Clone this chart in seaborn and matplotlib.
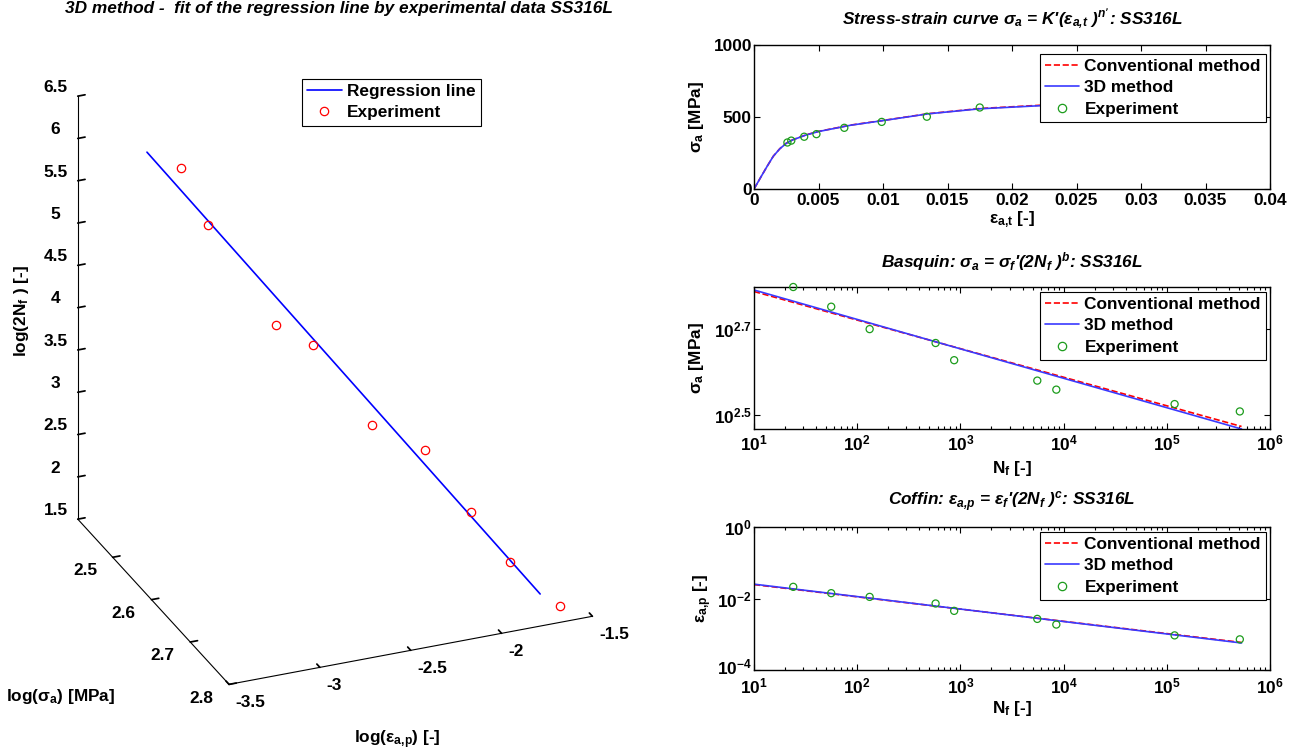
import numpy as np
import pandas as pd
import seaborn as sns
import matplotlib
matplotlib.use("Agg")
import matplotlib.pyplot as plt
from matplotlib.lines import Line2D
from matplotlib.transforms import ScaledTranslation
from matplotlib.ticker import FixedLocator, FixedFormatter, LogLocator, NullFormatter, NullLocator

# ---------------- data ----------------
cycles_nf = [24, 56, 132, 575, 870, 5560, 8500, 119000, 510000]
stress_amp = [629, 566, 502, 466, 425, 381, 363, 336, 323]
strain_total = [0.0270, 0.0175, 0.0134, 0.0099, 0.0070, 0.00484, 0.00389, 0.00289, 0.00259]
strain_plastic = [0.0212, 0.0141, 0.0111, 0.00724, 0.00451, 0.00269, 0.00187, 0.00093, 0.00072]

curve_strain = [0, 0.0005, 0.001, 0.0015, 0.002, 0.0025, 0.003, 0.004, 0.005,
                0.0075, 0.01, 0.0135, 0.0175, 0.0225, 0.03]
curve_stress_conv = [0, 78, 155, 228, 280, 318, 342, 375, 400, 444, 476, 523, 559, 583, 618]
curve_stress_3d = [0, 78, 155, 228, 279, 317, 341, 374, 399, 443, 475, 522, 557, 580, 615]

fit_nf = [10, 530000]
basquin_conv = [614, 298]
basquin_3d = [619, 294]
coffin_conv = [0.0245, 0.00059]
coffin_3d = [0.0252, 0.00057]

reg_log_eps = [-3.243, -1.715]
reg_log_sig = [2.468, 2.766]
reg_log_2nf = [6.025, 1.68]

strain_ticks = [0, 0.005, 0.01, 0.015, 0.02, 0.025, 0.03, 0.035, 0.04]
strain_labels = ["0", "0.005", "0.01", "0.015", "0.02", "0.025", "0.03", "0.035", "0.04"]
stress_ticks = [0, 500, 1000]
stress_labels = ["0", "500", "1000"]
nf_ticks = [1e1, 1e2, 1e3, 1e4, 1e5, 1e6]
nf_labels = ["$10^{1}$", "$10^{2}$", "$10^{3}$", "$10^{4}$", "$10^{5}$", "$10^{6}$"]
basq_ticks = [10 ** 2.5, 10 ** 2.7]
basq_labels = ["$10^{2.5}$", "$10^{2.7}$"]
coff_ticks = [1e-4, 1e-2, 1e0]
coff_labels = ["$10^{-4}$", "$10^{-2}$", "$10^{0}$"]
eps_ticks = [-3.5, -3, -2.5, -2, -1.5]
eps_labels = ["-3.5", "-3", "-2.5", "-2", "-1.5"]
sig_ticks = [2.5, 2.6, 2.7, 2.8]
sig_labels = ["2.5", "2.6", "2.7", "2.8"]
z_ticks = [1.5, 2, 2.5, 3, 3.5, 4, 4.5, 5, 5.5, 6, 6.5]
z_labels = ["1.5", "2", "2.5", "3", "3.5", "4", "4.5", "5", "5.5", "6", "6.5"]

legend_labels = ["Conventional method", "3D method", "Experiment"]

# ---------------- style ----------------
FS = 12.4
sns.set_theme(style="white")
plt.rcParams.update({
    "font.family": ["Liberation Sans", "DejaVu Sans"],
    "font.weight": "bold",
    "font.size": FS,
    "axes.labelweight": "bold",
    "axes.titleweight": "bold",
    "mathtext.default": "regular",
    "axes.edgecolor": "black",
    "axes.labelcolor": "black",
    "text.color": "black",
    "xtick.color": "black",
    "ytick.color": "black",
    "axes.linewidth": 1.0,
})

RED = "#ff0000"
BLUE = "#3a3aff"
GREEN = "#1c9c1c"

W, H = 1296, 754
fig = plt.figure(figsize=(W / 100, H / 100), dpi=100)


def rect(l, t, r, b):
    return [l / W, 1 - b / H, (r - l) / W, (b - t) / H]


LEG_KW = dict(frameon=True, fancybox=False, edgecolor="black", framealpha=1,
              borderaxespad=0, handlelength=2.0, handletextpad=0.3, labelspacing=0.36,
              borderpad=0.3, prop=dict(size=FS, weight="bold"))

# ---------------- 3D panel ----------------
ax3 = fig.add_axes([0.0, 0.05, 0.5, 0.9], projection="3d")
ax3.set_proj_type("ortho")
ax3.set_xlim(-3.5, -1.5)
ax3.set_ylim(2.8, 2.41)
ax3.set_zlim(1.5, 6.5)
ax3.set_box_aspect((393, 395, 474))
ax3.view_init(elev=26.9, azim=-112.5)
ax3.patch.set_alpha(0)
ax3.grid(False)
for axis in (ax3.xaxis, ax3.yaxis, ax3.zaxis):
    axis.set_pane_color((1, 1, 1, 0))
    axis.pane.set_edgecolor((1, 1, 1, 0))
    axis.line.set_color("black")
    axis.line.set_linewidth(0.8)
    axis._axinfo["tick"]["inward_factor"] = 0.0
    axis._axinfo["tick"]["outward_factor"] = 0.25

ax3.set_xticks(eps_ticks)
ax3.set_xticklabels(eps_labels, fontsize=FS, fontweight="bold")
ax3.set_yticks(sig_ticks)
ax3.set_yticklabels(sig_labels, fontsize=FS, fontweight="bold")
ax3.set_zticks(z_ticks)
ax3.set_zticklabels(z_labels, fontsize=FS, fontweight="bold")
ax3.tick_params(colors="black", width=0.8)
for lab in ax3.get_xticklabels():
    lab.set_horizontalalignment("left")
    lab.set_verticalalignment("bottom")
for lab in ax3.get_yticklabels():
    lab.set_horizontalalignment("right")
    lab.set_verticalalignment("bottom")
for lab in ax3.get_zticklabels():
    lab.set_horizontalalignment("center")
    lab.set_verticalalignment("baseline")

log_eps = np.log10(strain_plastic)
log_sig = np.log10(stress_amp)
log_2nf = np.log10(2 * np.array(cycles_nf))
ax3.plot(reg_log_eps, reg_log_sig, reg_log_2nf, color="#0000ff", lw=1.2)
ax3.plot(log_eps, log_sig, log_2nf, ls="none", marker="o", mfc="none", mec=RED, ms=6, mew=0.9)

# fit the axes position so that the box corners land where they are in the reference
fig.canvas.draw()
targets = np.array([[77, 519], [77, 97], [230, 684], [593, 616]], float)
targets[:, 1] = H - targets[:, 1]
corners = [(-3.5, 2.41, 1.5), (-3.5, 2.41, 6.5), (-3.5, 2.8, 1.5), (-1.5, 2.8, 1.5)]
M = ax3.get_proj()
pts = []
for (x, y, z) in corners:
    v = M @ np.array([x, y, z, 1.0])
    pts.append(ax3.transData.transform((v[0] / v[3], v[1] / v[3])))
pts = np.array(pts)
bb = ax3.bbox
c0 = np.array([(bb.x0 + bb.x1) / 2, (bb.y0 + bb.y1) / 2])
w0 = bb.width
r = (pts - c0) / w0
A = np.zeros((8, 3))
bvec = np.zeros(8)
for i in range(4):
    A[2 * i] = [r[i, 0], 1, 0]
    bvec[2 * i] = targets[i, 0]
    A[2 * i + 1] = [r[i, 1], 0, 1]
    bvec[2 * i + 1] = targets[i, 1]
w1, cx, cy = np.linalg.lstsq(A, bvec, rcond=None)[0]
ax3.set_position([(cx - w1 / 2) / W, (cy - w1 / 2) / H, w1 / W, w1 / H])

h_reg = Line2D([], [], color="#0000ff", lw=1.2)
h_exp3 = Line2D([], [], ls="none", marker="o", mfc="none", mec=RED, ms=6, mew=0.9)
leg3 = fig.legend([h_reg, h_exp3], ["Regression line", "Experiment"], loc="upper left",
                  bbox_to_anchor=(302 / W, 1 - 79 / H), bbox_transform=fig.transFigure,
                  **LEG_KW)
leg3.get_frame().set_linewidth(0.8)

fig.text(65 / W, 1 - 9 / H, "3D method -  fit of the regression line by experimental data SS316L",
         ha="left", va="center", fontsize=FS, fontweight="bold", fontstyle="italic")
fig.text(22 / W, 1 - 311 / H, "log(2N$_f$ ) [-]", rotation=90, ha="center", va="center",
         fontsize=FS, fontweight="bold")
fig.text(61 / W, 1 - 697 / H, "log($σ_a$) [MPa]", ha="center", va="center",
         fontsize=FS, fontweight="bold")
fig.text(397 / W, 1 - 740 / H, "log($ε_{a{,}p}$) [-]", ha="center", va="center",
         fontsize=FS, fontweight="bold")

# ---------------- 2D panels ----------------
rects = [(754, 45, 1270, 189), (754, 287, 1270, 429), (754, 527, 1270, 670)]
titles = ["Stress-strain curve $σ_a$ = K'($ε_{a{,}t}$ )$^{n\u2019}$: SS316L",
          "Basquin: $σ_a$ = $σ_f$'(2N$_f$ )$^{b}$: SS316L",
          "Coffin: $ε_{a{,}p}$ = $ε_f$'(2N$_f$ )$^{c}$: SS316L"]
xlabels = ["$ε_{a{,}t}$ [-]", "N$_f$ [-]", "N$_f$ [-]"]
ylabels = ["$σ_a$ [MPa]", "$σ_a$ [MPa]", "$ε_{a{,}p}$ [-]"]
xlab_off = [31, 39, 38]
ylab_x = [696, 696, 703]
leg_top = [9, 5, 5]
xpad = [3, 3, 4.5]

axes2d = [fig.add_axes(rect(*rc)) for rc in rects]

# panel 1: stress-strain
ax = axes2d[0]
sns.lineplot(x=curve_strain, y=curve_stress_conv, ax=ax, color=RED, linestyle="--",
             linewidth=1.2, sort=False, estimator=None)
sns.lineplot(x=curve_strain, y=curve_stress_3d, ax=ax, color=BLUE, linewidth=1.2,
             sort=False, estimator=None)
sns.scatterplot(x=strain_total, y=stress_amp, ax=ax, marker="o", s=26, facecolor="none",
                edgecolor=GREEN, linewidth=0.9, zorder=3)
ax.set_xlim(0, 0.04)
ax.set_ylim(0, 1000)
ax.xaxis.set_major_locator(FixedLocator(strain_ticks))
ax.xaxis.set_major_formatter(FixedFormatter(strain_labels))
ax.yaxis.set_major_locator(FixedLocator(stress_ticks))
ax.yaxis.set_major_formatter(FixedFormatter(stress_labels))

# panel 2: Basquin
ax = axes2d[1]
ax.set_xscale("log")
ax.set_yscale("log")
sns.lineplot(x=fit_nf, y=basquin_conv, ax=ax, color=RED, linestyle="--", linewidth=1.2,
             sort=False, estimator=None)
sns.lineplot(x=fit_nf, y=basquin_3d, ax=ax, color=BLUE, linewidth=1.2, sort=False,
             estimator=None)
sns.scatterplot(x=cycles_nf, y=stress_amp, ax=ax, marker="o", s=26, facecolor="none",
                edgecolor=GREEN, linewidth=0.9, zorder=3, clip_on=False)
ax.set_xlim(10, 1e6)
ax.set_ylim(294, 629)
ax.yaxis.set_major_locator(FixedLocator(basq_ticks))
ax.yaxis.set_major_formatter(FixedFormatter(basq_labels))

# panel 3: Coffin
ax = axes2d[2]
ax.set_xscale("log")
ax.set_yscale("log")
sns.lineplot(x=fit_nf, y=coffin_conv, ax=ax, color=RED, linestyle="--", linewidth=1.2,
             sort=False, estimator=None)
sns.lineplot(x=fit_nf, y=coffin_3d, ax=ax, color=BLUE, linewidth=1.2, sort=False,
             estimator=None)
sns.scatterplot(x=cycles_nf, y=strain_plastic, ax=ax, marker="o", s=26, facecolor="none",
                edgecolor=GREEN, linewidth=0.9, zorder=3)
ax.set_xlim(10, 1e6)
ax.set_ylim(1e-4, 1)
ax.yaxis.set_major_locator(FixedLocator(coff_ticks))
ax.yaxis.set_major_formatter(FixedFormatter(coff_labels))

for ax in axes2d[1:]:
    ax.xaxis.set_major_locator(FixedLocator(nf_ticks))
    ax.xaxis.set_major_formatter(FixedFormatter(nf_labels))
    ax.xaxis.set_minor_locator(LogLocator(base=10, subs=np.arange(2, 10)))
    ax.xaxis.set_minor_formatter(NullFormatter())
    ax.yaxis.set_minor_locator(NullLocator())
    ax.yaxis.set_minor_formatter(NullFormatter())

for k, ax in enumerate(axes2d):
    l, t, rr, b = rects[k]
    wpx, hpx = rr - l, b - t
    ax.tick_params(which="both", direction="in", top=True, right=True, bottom=True, left=True,
                   labelsize=FS, width=0.8, colors="black")
    ax.tick_params(which="major", length=4)
    ax.tick_params(which="minor", length=2)
    ax.tick_params(axis="x", pad=xpad[k])
    ax.tick_params(axis="y", pad=1.5)
    for sp in ax.spines.values():
        sp.set_color("black")
        sp.set_linewidth(1.0)
    ax.set_xlabel(xlabels[k], fontsize=FS, fontweight="bold")
    ax.set_ylabel(ylabels[k], fontsize=FS, fontweight="bold")
    ax.xaxis.label.set_va("center")
    ax.yaxis.label.set_va("center")
    ax.xaxis.set_label_coords(0.5, -xlab_off[k] / hpx)
    ax.yaxis.set_label_coords((ylab_x[k] - l) / wpx, 0.5)
    ax.annotate(titles[k], xy=(0.5, 1.0), xycoords="axes fraction", xytext=(0, 25 * 0.72),
                textcoords="offset points", ha="center", va="center", fontsize=FS,
                fontweight="bold", fontstyle="italic")
    hc = Line2D([], [], color=RED, ls="--", lw=1.2)
    hb = Line2D([], [], color=BLUE, lw=1.2)
    he = Line2D([], [], ls="none", marker="o", mfc="none", mec=GREEN, ms=6, mew=0.9)
    leg = ax.legend([hc, hb, he], legend_labels, loc="upper right",
                    bbox_to_anchor=(1 - 4 / wpx, 1 - leg_top[k] / hpx), **LEG_KW)
    leg.get_frame().set_linewidth(0.8)

# keep the lowest y tick label of the Coffin panel clear of the first x tick label
low_tick = axes2d[2].yaxis.get_major_ticks()[0]
low_tick.label1.set_transform(low_tick.label1.get_transform()
                              + ScaledTranslation(0, 3 / 72, fig.dpi_scale_trans))

fig.savefig("out.png", dpi=100)
